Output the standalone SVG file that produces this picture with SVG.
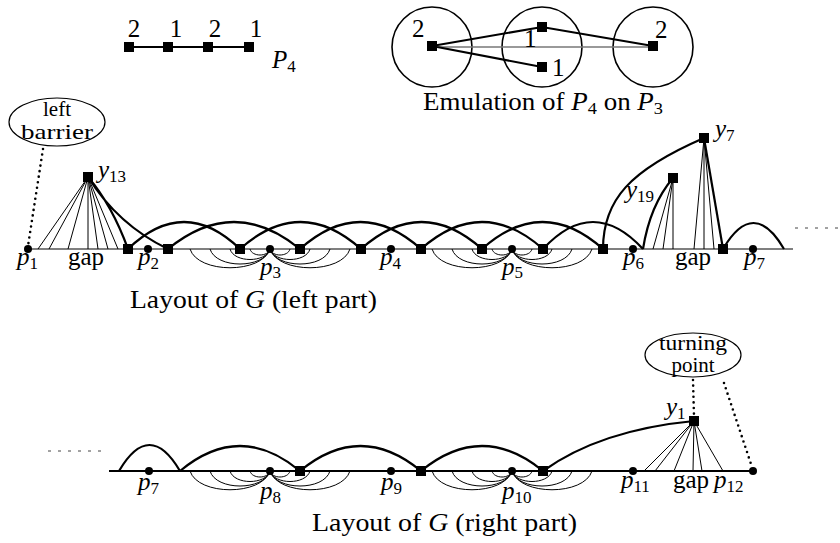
<svg xmlns="http://www.w3.org/2000/svg" xmlns:xlink="http://www.w3.org/1999/xlink" width="840" height="543" viewBox="0 0 840 543">
<style>
.t{font-family:"Liberation Serif","Times New Roman",serif;font-size:25px;fill:#000}
.e{font-family:"Liberation Serif","Times New Roman",serif;font-size:21px;fill:#000}
.m{font-style:italic}
.sub{font-style:normal;font-size:17px}
.thin{stroke:#000;stroke-width:1;fill:none}
.thick{stroke:#000;stroke-width:2.2;fill:none}
.axis{stroke:#555;stroke-width:1.4;fill:none}
.axisb{stroke:#000;stroke-width:1.8;fill:none}
.grey{stroke:#777;stroke-width:1.6;fill:none}
.dots{stroke:#000;stroke-width:2.6;stroke-linecap:round;stroke-dasharray:0 5.6;fill:none}
.dash{stroke:#444;stroke-width:1;stroke-dasharray:3 7;fill:none}
.circ{stroke:#000;stroke-width:1.6;fill:none}
.ell{stroke:#000;stroke-width:1.2;fill:#fff}
.sq{fill:#000}
.pt{fill:#000}
</style>
<defs>
<rect id="sq" x="-5" y="-5" width="10" height="10" class="sq"/>
<circle id="pt" r="4" class="pt"/>
<g id="fan" class="thin">
<path d="M-80,0 C-72,25 -8,25 0,0"/>
<path d="M-60,0 C-54,20 -6,20 0,0"/>
<path d="M-40,0 C-36,14 -4,14 0,0"/>
<path d="M-20,0 C-18,8 -2,8 0,0"/>
<path d="M80,0 C72,25 8,25 0,0"/>
<path d="M60,0 C54,20 6,20 0,0"/>
<path d="M40,0 C36,14 4,14 0,0"/>
<path d="M20,0 C18,8 2,8 0,0"/>
</g>
</defs>
<rect width="840" height="543" fill="#fff"/>

<!-- P4 -->
<g id="p4-path">
<line x1="129" y1="47" x2="249" y2="47" stroke="#000" stroke-width="2"/>
<use href="#sq" x="129" y="47"/><use href="#sq" x="168" y="47"/><use href="#sq" x="208" y="47"/><use href="#sq" x="249" y="47"/>
<text class="t" x="134" y="37" text-anchor="middle">2</text>
<text class="t" x="176" y="37" text-anchor="middle">1</text>
<text class="t" x="215" y="37" text-anchor="middle">2</text>
<text class="t" x="256" y="37" text-anchor="middle">1</text>
<text class="t m" x="272" y="68">P<tspan class="sub" dy="4">4</tspan></text>
</g>

<!-- Emulation -->
<g id="emulation">
<circle cx="432" cy="47" r="40" class="circ"/>
<circle cx="542" cy="47" r="40" class="circ"/>
<circle cx="653" cy="47" r="40" class="circ"/>
<line x1="432" y1="47" x2="653" y2="47" class="grey"/>
<path d="M432,46 L542,27 L653,46 M432,46 L542,67" stroke="#000" stroke-width="2" fill="none"/>
<use href="#sq" x="432" y="46"/><use href="#sq" x="542" y="27"/><use href="#sq" x="542" y="67"/><use href="#sq" x="653" y="46"/>
<text class="t" x="412" y="37">2</text>
<text class="t" x="524" y="47">1</text>
<text class="t" x="552" y="76">1</text>
<text class="t" x="655" y="38">2</text>
<text class="t" x="423" y="110" textLength="240" lengthAdjust="spacingAndGlyphs">Emulation of <tspan class="m">P</tspan><tspan class="sub" dy="4">4</tspan><tspan dy="-4"> on </tspan><tspan class="m">P</tspan><tspan class="sub" dy="4">3</tspan></text>
</g>

<!-- Left part connectors -->
<g id="connectors-left">
<line x1="28" y1="249" x2="793" y2="249" class="axis"/>
<line x1="795" y1="228" x2="840" y2="228" class="dash"/>
<path class="dots" d="M43,149 L28,246"/>
<path class="thin" d="M88,177 L38,249 M88,177 L49,249 M88,177 L68,249 M88,177 L88,249 M88,177 L98,249 M88,177 L108,249 M88,177 L118,249"/>
<path class="thick" d="M88,177 Q112,205 128,249 M88,177 Q118,225 168,249"/>
<path class="thick" d="M128,249 Q184,195 240,249 M168,249 Q234,195 300,249 M240,249 Q300.5,195 361,249 M300,249 Q360.5,195 421,249 M361,249 Q421.5,195 482,249 M421,249 Q482,195 543,249 M482,249 Q542.5,195 603,249 M543,249 Q593,195 643,249 M723,249 Q753.5,197 784,249"/>
<use href="#fan" x="270" y="249"/>
<use href="#fan" x="512" y="249"/>
<path class="thick" d="M603,249 C603,200 630,170 704,138"/>
<path class="thin" d="M673,178 L653,249 M673,178 L663,249 M673,178 L673,249"/>
<path class="thick" d="M673,178 Q650,205 643,249"/>
<path class="thin" d="M704,138 L694,249 M704,138 L704,249 M704,138 L714,249"/>
<path class="thick" d="M704,138 L723,249"/>
</g>

<!-- Left part nodes -->
<g id="left-barrier">
<ellipse cx="57" cy="122" rx="48" ry="24" class="ell"/>
<text class="e" x="57" y="116" text-anchor="middle">left</text>
<text class="e" x="57" y="139" text-anchor="middle" textLength="72" lengthAdjust="spacingAndGlyphs">barrier</text>
</g>
<g id="y13"><use href="#sq" x="88" y="177"/><text class="t m" x="98" y="178">y<tspan class="sub" dy="4">13</tspan></text></g>
<g id="y19"><use href="#sq" x="673" y="178"/><text class="t m" x="626" y="198">y<tspan class="sub" dy="4">19</tspan></text></g>
<g id="y7"><use href="#sq" x="704" y="138"/><text class="t m" x="715" y="137">y<tspan class="sub" dy="4">7</tspan></text></g>
<g id="p1"><use href="#pt" x="28" y="249"/><text class="t m" x="17" y="265">p<tspan class="sub" dy="4">1</tspan></text></g>
<g id="gap-left"><text class="t" x="68" y="265">gap</text></g>
<g id="p2"><use href="#pt" x="148" y="249"/><text class="t m" x="138" y="265">p<tspan class="sub" dy="4">2</tspan></text></g>
<g id="p3"><use href="#pt" x="270" y="249"/><text class="t m" x="260" y="275">p<tspan class="sub" dy="3">3</tspan></text></g>
<g id="p4"><use href="#pt" x="391" y="249"/><text class="t m" x="380" y="265">p<tspan class="sub" dy="4">4</tspan></text></g>
<g id="p5"><use href="#pt" x="512" y="249"/><text class="t m" x="502" y="275">p<tspan class="sub" dy="3">5</tspan></text></g>
<g id="p6"><use href="#pt" x="633" y="249"/><text class="t m" x="623" y="265">p<tspan class="sub" dy="4">6</tspan></text></g>
<g id="gap-mid"><text class="t" x="675" y="265">gap</text></g>
<g id="p7a"><use href="#pt" x="753" y="249"/><text class="t m" x="744" y="265">p<tspan class="sub" dy="4">7</tspan></text></g>
<g id="squares-left">
<use href="#sq" x="128" y="249"/><use href="#sq" x="168" y="249"/><use href="#sq" x="240" y="249"/><use href="#sq" x="300" y="249"/><use href="#sq" x="361" y="249"/><use href="#sq" x="421" y="249"/><use href="#sq" x="482" y="249"/><use href="#sq" x="543" y="249"/><use href="#sq" x="603" y="249"/><use href="#sq" x="723" y="249"/>
</g>
<text class="t" x="130" y="308" textLength="247" lengthAdjust="spacingAndGlyphs">Layout of <tspan class="m">G</tspan> (left part)</text>

<!-- Right part connectors -->
<g id="connectors-right">
<line x1="109" y1="471" x2="753" y2="471" class="axisb"/>
<line x1="48" y1="451" x2="104" y2="451" class="dash"/>
<path class="thick" d="M119,471 Q149.5,419 180,471 M180,471 Q240,421 300,471 M300,471 Q360.5,421 421,471 M421,471 Q482,421 543,471"/>
<use href="#fan" x="270" y="471"/>
<use href="#fan" x="512" y="471"/>
<path class="thick" d="M543,471 Q600,430 694,421"/>
<path class="thin" d="M694,421 L644,471 M694,421 L655,471 M694,421 L674,471 M694,421 L693,471 M694,421 L702,471 M694,421 L723,471"/>
<path class="dots" d="M693,380 L694,416 M724,383 L752,467"/>
</g>

<!-- Right part nodes -->
<g id="turning-point">
<ellipse cx="693" cy="355" rx="48" ry="22" class="ell"/>
<text class="e" x="693" y="350" text-anchor="middle" textLength="68" lengthAdjust="spacingAndGlyphs">turning</text>
<text class="e" x="693" y="372" text-anchor="middle">point</text>
</g>
<g id="y1"><use href="#sq" x="694" y="421"/><text class="t m" x="666" y="415">y<tspan class="sub" dy="4">1</tspan></text></g>
<g id="p7b"><use href="#pt" x="149" y="471"/><text class="t m" x="138" y="490">p<tspan class="sub" dy="4">7</tspan></text></g>
<g id="p8"><use href="#pt" x="270" y="471"/><text class="t m" x="260" y="499">p<tspan class="sub" dy="4">8</tspan></text></g>
<g id="p9"><use href="#pt" x="391" y="471"/><text class="t m" x="381" y="490">p<tspan class="sub" dy="4">9</tspan></text></g>
<g id="p10"><use href="#pt" x="512" y="471"/><text class="t m" x="502" y="499">p<tspan class="sub" dy="4">10</tspan></text></g>
<g id="p11"><use href="#pt" x="633" y="471"/><text class="t m" x="621" y="488">p<tspan class="sub" dy="4">11</tspan></text></g>
<g id="gap-right"><text class="t" x="673" y="488">gap</text></g>
<g id="p12"><use href="#pt" x="753" y="471"/><text class="t m" x="714" y="488">p<tspan class="sub" dy="4">12</tspan></text></g>
<g id="squares-right">
<use href="#sq" x="300" y="471"/><use href="#sq" x="421" y="471"/><use href="#sq" x="543" y="471"/>
</g>
<text class="t" x="312" y="531" textLength="265" lengthAdjust="spacingAndGlyphs">Layout of <tspan class="m">G</tspan> (right part)</text>
</svg>
